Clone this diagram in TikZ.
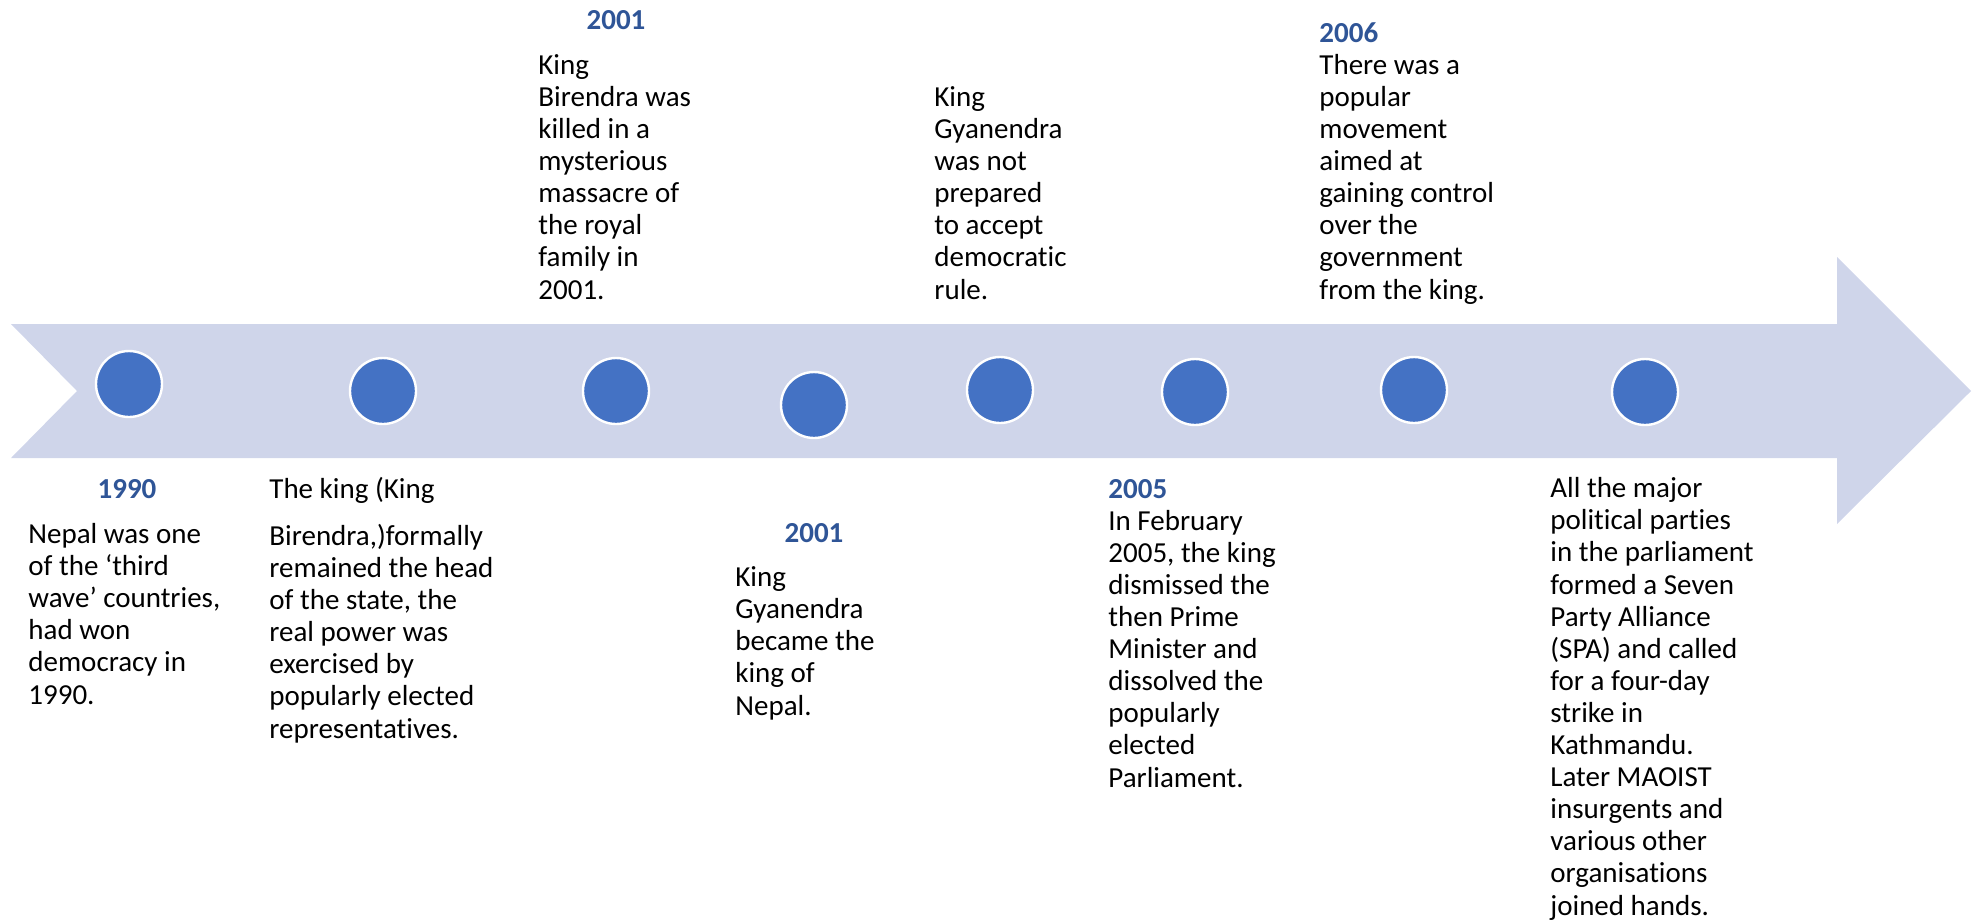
\documentclass[tikz,border=0pt]{standalone}
\usepackage{fontspec}
\setmainfont[Ligatures=NoCommon]{Carlito}
\usepackage{xcolor}
\definecolor{bandfill}{HTML}{CFD5EA}
\definecolor{dotblue}{HTML}{4472C4}
\definecolor{yearblue}{HTML}{2F5597}

\begin{document}
\begin{tikzpicture}[x=0.5pt, y=-0.5pt,
  every node/.style={font=\fontsize{14.5}{16.05}\selectfont},
  dot/.style={circle, fill=dotblue, draw=white, line width=1.2pt, minimum size=33pt, inner sep=0pt},
  yr/.style={text=yearblue, font=\fontsize{14.5}{16.05}\selectfont\bfseries, inner sep=0pt},
  note/.style={align=left, inner sep=0pt, anchor=base west}]
\useasboundingbox (0,0) rectangle (1978,923);

% --- Arrow band ---
\fill[bandfill] (11,324) -- (1837,324) -- (1837,257) -- (1971,391) -- (1837,524)
  -- (1837,458) -- (11,458) -- (77,391) -- cycle;

% --- Dots on the band ---
\node[dot] (d1) at (129,384) {};
\node[dot] (d2) at (383,391) {};
\node[dot] (d3) at (616,391) {};
\node[dot] (d4) at (814,405) {};
\node[dot] (d5) at (1000,390) {};
\node[dot] (d6) at (1195,392) {};
\node[dot] (d7) at (1414,390) {};
\node[dot] (d8) at (1645,392) {};

% --- Below the band (notes sit on their last line) ---
\node[yr, anchor=base] (y1990) at (127,498) {1990};
\node[note] (t1990) at (28,704) {Nepal was one\\of the ‘third\\wave’ countries,\\had won\\democracy in\\1990.};

\node[note] (tking) at (269,498) {The king (King};
\node[note] (tbir) at (269,738) {Birendra,)formally\\remained the head\\of the state, the\\real power was\\exercised by\\popularly elected\\representatives.};

\node[yr, anchor=base] (y2001b) at (814,542) {2001};
\node[note] (tgyan) at (735,715) {King\\Gyanendra\\became the\\king of\\Nepal.};

\node[yr, anchor=base west] (y2005) at (1108,498) {2005};
\node[note] (t2005) at (1108,787) {In February\\2005, the king\\dismissed the\\then Prime\\Minister and\\dissolved the\\popularly\\elected\\Parliament.};

\node[note] (tspa) at (1550,915) {All the major\\political parties\\in the parliament\\formed a Seven\\Party Alliance\\(SPA) and called\\for a four-day\\strike in\\Kathmandu.\\Later MAOIST\\insurgents and\\various other\\organisations\\joined hands.};

% --- Above the band ---
\node[yr, anchor=base] (y2001a) at (616,29) {2001};
\node[note] (tmass) at (538,299) {King\\Birendra was\\killed in a\\mysterious\\massacre of\\the royal\\family in\\2001.};

\node[note] (trule) at (934,299) {King\\Gyanendra\\was not\\prepared\\to accept\\democratic\\rule.};

\node[yr, anchor=base west] (y2006) at (1319,42) {2006};
\node[note] (t2006) at (1319,299) {There was a\\popular\\movement\\aimed at\\gaining control\\over the\\government\\from the king.};
\end{tikzpicture}
\end{document}
